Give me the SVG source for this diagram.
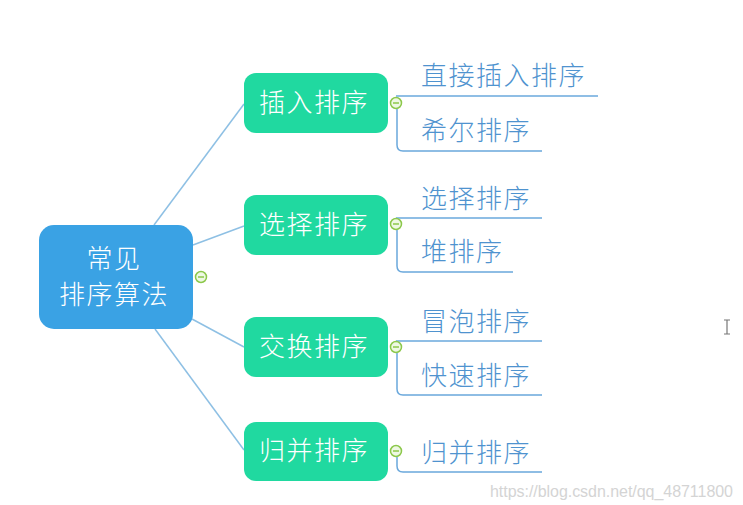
<svg xmlns="http://www.w3.org/2000/svg" width="743" height="505" viewBox="0 0 743 505">
<style>
.root{fill:#3aa2e4}
.node{fill:#20d9a0}
.nt{font-family:"Noto Sans CJK SC","Noto Sans",sans-serif;font-size:26px;font-weight:300;fill:#ffffff;text-anchor:middle;letter-spacing:1.5px}
.lt{font-family:"Noto Sans CJK SC","Noto Sans",sans-serif;font-size:26px;font-weight:300;fill:#4f93cf;letter-spacing:1.5px}
.edge{stroke:#8ec0e4;stroke-width:1.5;fill:none}
.leaf{stroke:#6aa8dc;stroke-width:1.5;fill:none}
.tog{fill:#eef8e4;stroke:#8cc84b;stroke-width:1.5}
.tm{stroke:#8cc84b;stroke-width:1.5}
</style>
<rect width="743" height="505" fill="#ffffff"/>
<g id="connectors">
<path class="edge" d="M154,225 L244,104"/>
<path class="edge" d="M193,245 L244,226"/>
<path class="edge" d="M192,319 L244,347"/>
<path class="edge" d="M155,329 L244,450"/>
<path class="leaf" d="M396,96 H598"/>
<path class="leaf" d="M397,109 V145 Q397,151 403,151 H542"/>
<path class="leaf" d="M396,218 H542"/>
<path class="leaf" d="M397,230 V266 Q397,272 403,272 H513"/>
<path class="leaf" d="M396,341 H542"/>
<path class="leaf" d="M397,353 V389 Q397,395 403,395 H542"/>
<path class="leaf" d="M397,457 V466 Q397,472 403,472 H542"/>
</g>
<g id="root">
<rect class="root" x="39" y="225" width="154" height="104" rx="15"/>
<text class="nt" x="114" y="268">常见</text>
<text class="nt" x="114" y="304">排序算法</text>
<circle class="tog" cx="201" cy="277" r="5.5"/><path class="tm" d="M198,277 H204"/>
</g>
<g id="n-insert">
<rect class="node" x="244" y="73" width="144" height="60" rx="12"/>
<text class="nt" x="314" y="112">插入排序</text>
<circle class="tog" cx="396" cy="103" r="5.5"/><path class="tm" d="M393,103 H399"/>
</g>
<g id="n-select">
<rect class="node" x="244" y="195" width="144" height="60" rx="12"/>
<text class="nt" x="314" y="234">选择排序</text>
<circle class="tog" cx="396" cy="224" r="5.5"/><path class="tm" d="M393,224 H399"/>
</g>
<g id="n-swap">
<rect class="node" x="244" y="317" width="144" height="60" rx="12"/>
<text class="nt" x="314" y="356">交换排序</text>
<circle class="tog" cx="396" cy="347" r="5.5"/><path class="tm" d="M393,347 H399"/>
</g>
<g id="n-merge">
<rect class="node" x="244" y="422" width="144" height="59" rx="12"/>
<text class="nt" x="314" y="460">归并排序</text>
<circle class="tog" cx="396" cy="451" r="5.5"/><path class="tm" d="M393,451 H399"/>
</g>
<g id="leaf-direct"><text class="lt" x="421" y="85">直接插入排序</text></g>
<g id="leaf-shell"><text class="lt" x="421" y="140">希尔排序</text></g>
<g id="leaf-select"><text class="lt" x="421" y="208">选择排序</text></g>
<g id="leaf-heap"><text class="lt" x="421" y="261">堆排序</text></g>
<g id="leaf-bubble"><text class="lt" x="421" y="331">冒泡排序</text></g>
<g id="leaf-quick"><text class="lt" x="421" y="385">快速排序</text></g>
<g id="leaf-merge"><text class="lt" x="421" y="462">归并排序</text></g>
<text x="490" y="497" font-family="Liberation Sans, Arial, sans-serif" font-size="16" fill="#d4d4d4" textLength="243">https://blog.csdn.net/qq_48711800</text>
<path d="M724,320 H730 M727,320 V334 M724,334 H730" stroke="#777" stroke-width="1.2" fill="none"/>
</svg>
